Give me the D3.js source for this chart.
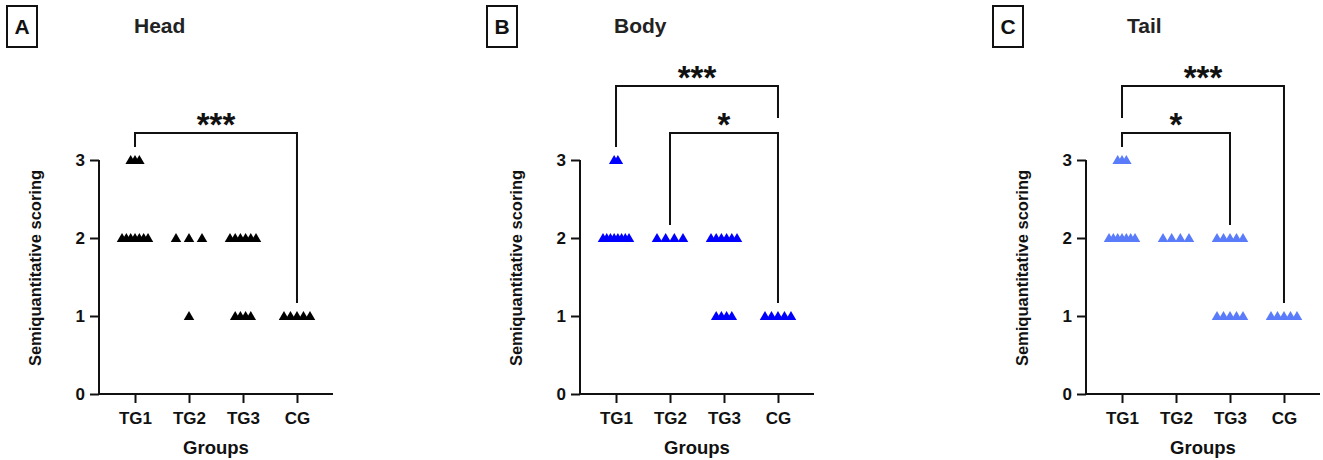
<!DOCTYPE html>
<html>
<head>
<meta charset="utf-8">
<script src="https://cdn.jsdelivr.net/npm/d3@7"></script>
<style>
  html, body { margin: 0; padding: 0; background: #fff; }
  svg { display: block; }
  text { font-family: "Liberation Sans", Arial, sans-serif; font-weight: bold; fill: #111; }
</style>
</head>
<body>
<svg id="chart" width="1323" height="460"></svg>
<script>
// ---------------- DATA ----------------
const groups = ["TG1", "TG2", "TG3", "CG"];
const yTicks = [0, 1, 2, 3];
const yLabel = "Semiquantitative scoring";
const xLabel = "Groups";

const panelLetters = ["A", "B", "C"];
const panelTitles = ["Head", "Body", "Tail"];
const panelColors = ["#000000", "#0000ff", "#5a7cfa"];

// Semiquantitative scores per group (one value per animal)
const headTG1 = [3, 3, 3, 2, 2, 2, 2, 2, 2, 2];
const headTG2 = [2, 2, 2, 1];
const headTG3 = [2, 2, 2, 2, 2, 2, 1, 1, 1, 1];
const headCG  = [1, 1, 1, 1, 1];

const bodyTG1 = [3, 3, 2, 2, 2, 2, 2, 2, 2, 2];
const bodyTG2 = [2, 2, 2, 2];
const bodyTG3 = [2, 2, 2, 2, 2, 2, 1, 1, 1, 1];
const bodyCG  = [1, 1, 1, 1, 1];

const tailTG1 = [3, 3, 3, 2, 2, 2, 2, 2, 2, 2];
const tailTG2 = [2, 2, 2, 2];
const tailTG3 = [2, 2, 2, 2, 2, 1, 1, 1, 1, 1];
const tailCG  = [1, 1, 1, 1, 1];

// Significance comparisons: [group A, group B, label]
const headSig = [["TG1", "CG", "***"]];
const bodySig = [["TG2", "CG", "*"], ["TG1", "CG", "***"]];
const tailSig = [["TG1", "TG3", "*"], ["TG1", "CG", "***"]];

// --------------- LAYOUT ---------------
const panels = [
  { ox: 99,   titleX: 134,  boxX: 7,   data: [headTG1, headTG2, headTG3, headCG], sig: headSig },
  { ox: 580,  titleX: 614,  boxX: 487, data: [bodyTG1, bodyTG2, bodyTG3, bodyCG], sig: bodySig },
  { ox: 1086, titleX: 1127, boxX: 993, data: [tailTG1, tailTG2, tailTG3, tailCG], sig: tailSig }
];

const svg = d3.select("#chart");
const y = d3.scaleLinear().domain([0, 3]).range([394, 160]);
const tri = d3.symbol().type(d3.symbolTriangle).size(48);

panels.forEach((p, pi) => {
  const g = svg.append("g");
  const x = d3.scalePoint().domain(groups).range([p.ox, p.ox + 234]).padding(0.667);
  const color = panelColors[pi];

  // Panel letter box
  g.append("rect").attr("x", p.boxX).attr("y", 6).attr("width", 30).attr("height", 41)
    .attr("fill", "none").attr("stroke", "#111").attr("stroke-width", 2);
  g.append("text").attr("x", p.boxX + 15).attr("y", 34).attr("text-anchor", "middle")
    .style("font-size", "21px").text(panelLetters[pi]);

  // Title
  g.append("text").attr("x", p.titleX).attr("y", 33).style("font-size", "21px")
    .style("fill", "#222").text(panelTitles[pi]);

  // Y axis
  const ya = g.append("g").attr("transform", `translate(${p.ox},0)`)
    .call(d3.axisLeft(y).tickValues(yTicks).tickFormat(d3.format("d")).tickSize(9).tickSizeOuter(0).tickPadding(5));
  ya.selectAll("path, line").attr("stroke", "#111").attr("stroke-width", 2);
  ya.select(".domain").attr("d", `M0,${y(0)}V${y(3)}`);
  ya.selectAll("text").style("font-size", "17px").style("font-family", "Liberation Sans, Arial, sans-serif")
    .style("font-weight", "bold").attr("fill", "#111");

  // X axis
  const xa = g.append("g").attr("transform", `translate(0,${y(0)})`)
    .call(d3.axisBottom(x).tickSize(9).tickSizeOuter(0));
  xa.selectAll("path, line").attr("stroke", "#111").attr("stroke-width", 2);
  xa.select(".domain").attr("d", `M${p.ox},0H${p.ox + 234}`);
  xa.selectAll("text").attr("y", 30).attr("dy", null).style("font-size", "17px")
    .style("font-family", "Liberation Sans, Arial, sans-serif").style("font-weight", "bold").attr("fill", "#111");

  // Axis titles
  g.append("text").attr("transform", `translate(${p.ox - 58},${(y(0) + y(3)) / 2 - 9}) rotate(-90)`)
    .attr("text-anchor", "middle").style("font-size", "16.5px").text(yLabel);
  g.append("text").attr("x", x("TG2") / 2 + x("TG3") / 2).attr("y", 454).attr("text-anchor", "middle")
    .style("font-size", "18.5px").text(xLabel);

  // Points: spread horizontally like a scatter-dot column
  groups.forEach((grp, gi) => {
    const vals = p.data[gi];
    const counts = d3.rollup(vals, v => v.length, d => d);
    const maxN = d3.max(counts.values());
    const step = maxN > 1 ? 26 / (maxN - 1) : 0;
    const pts = [];
    counts.forEach((n, v) => {
      for (let k = 0; k < n; k++) pts.push({ v, off: (k - (n - 1) / 2) * step });
    });
    g.append("g").selectAll("path").data(pts).join("path")
      .attr("d", tri)
      .attr("transform", d => `translate(${x(grp) + d.off},${y(d.v) + 1})`)
      .attr("fill", color);
  });

  // Significance brackets
  const levelY = [y(3) - 27, y(3) - 74];
  const maxOf = grp => d3.max(p.data[groups.indexOf(grp)]);
  p.sig.forEach((s, li) => {
    const [ga, gb, lab] = s;
    const by = levelY[li];
    const legEnd = grp => {
      for (let lj = 0; lj < li; lj++) {
        const o = p.sig[lj];
        if (o[0] === grp || o[1] === grp) return levelY[lj] - 15;
      }
      return y(maxOf(grp)) - 13;
    };
    const xa1 = x(ga), xb1 = x(gb);
    g.append("path")
      .attr("d", `M${xa1},${legEnd(ga)}V${by}H${xb1}V${legEnd(gb)}`)
      .attr("fill", "none").attr("stroke", "#111").attr("stroke-width", 2);
    g.append("text").attr("x", (xa1 + xb1) / 2).attr("y", by - 16 + 0.57 * 33)
      .attr("text-anchor", "middle").style("font-size", "33px").text(lab);
  });
});
</script>
</body>
</html>
